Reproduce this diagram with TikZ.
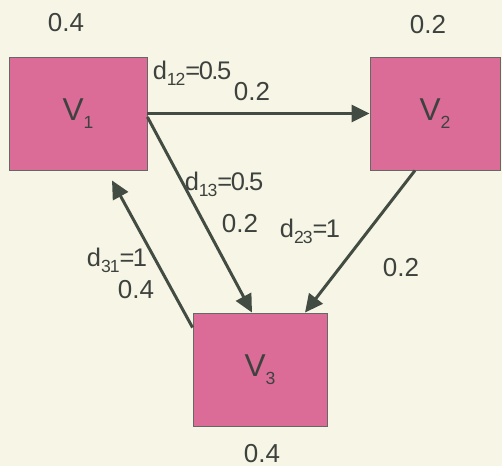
\documentclass[tikz,border=0pt]{standalone}
\usepackage{fontspec}
\setmainfont{Liberation Sans}
\usetikzlibrary{arrows.meta}
\definecolor{paper}{RGB}{247,246,230}
\definecolor{boxpink}{RGB}{219,108,151}
\definecolor{inkgray}{RGB}{62,66,62}
\definecolor{arrowgray}{RGB}{66,76,66}
\newcommand\vsub[1]{\raisebox{-0.45ex}{\fontsize{10}{10}\selectfont #1}}
\begin{document}
\begin{tikzpicture}[
    font=\fontsize{14.8pt}{17pt}\selectfont,
    every node/.style={text=inkgray},
    vbox/.style={draw=inkgray!80, line width=0.5pt, fill=boxpink, minimum height=2.26cm, inner sep=0pt,
      font=\fontsize{18pt}{20pt}\selectfont},
    lbl/.style={inner sep=0pt},
    dlbl/.style={inner sep=0pt, font=\fontsize{14.5pt}{17pt}\selectfont\addfontfeature{LetterSpace=-6}},
    arr/.style={-{Triangle[length=0.36cm,width=0.34cm]}, line width=1.7pt, draw=arrowgray}
  ]
    \fill[paper] (0,0) rectangle (10.04,9.32);
    \useasboundingbox (0,0) rectangle (10.04,9.32);

    \node[vbox, minimum width=2.76cm] (v1) at (1.56,7.05) {V\vsub{1}};
    \node[vbox, minimum width=2.6cm]  (v2) at (8.70,7.05) {V\vsub{2}};
    \node[vbox, minimum width=2.68cm] (v3) at (5.20,1.93) {V\vsub{3}};

    \node[lbl] (w1) at (1.32,8.86) {0.4};
    \node[lbl] (w2) at (8.56,8.82) {0.2};
    \node[lbl] (w3) at (5.24,0.24) {0.4};

    \draw[arr] (v1) -- (v2);
    \draw[arr] ([yshift=-0.07cm]v1.east) -- ([xshift=-0.16cm]v3.north);
    \draw[arr] ([xshift=-0.4cm]v2.south) -- ([xshift=0.9cm]v3.north);
    \draw[arr] ([yshift=-0.3cm]v3.north west) -- ([xshift=0.68cm,yshift=-0.2cm]v1.south);

    \node[dlbl] (d12) at (3.84,7.86) {d\vsub{12}=0.5};
    \node[lbl]  (p12) at (5.04,7.48) {0.2};
    \node[dlbl] (d13) at (4.48,5.64) {d\vsub{13}=0.5};
    \node[lbl]  (p13) at (4.80,4.84) {0.2};
    \node[dlbl] (d23) at (6.20,4.70) {d\vsub{23}=1};
    \node[lbl]  (p23) at (8.02,3.96) {0.2};
    \node[dlbl] (d31) at (2.34,4.12) {d\vsub{31}=1};
    \node[lbl]  (p31) at (2.72,3.52) {0.4};
  \end{tikzpicture}
\end{document}
